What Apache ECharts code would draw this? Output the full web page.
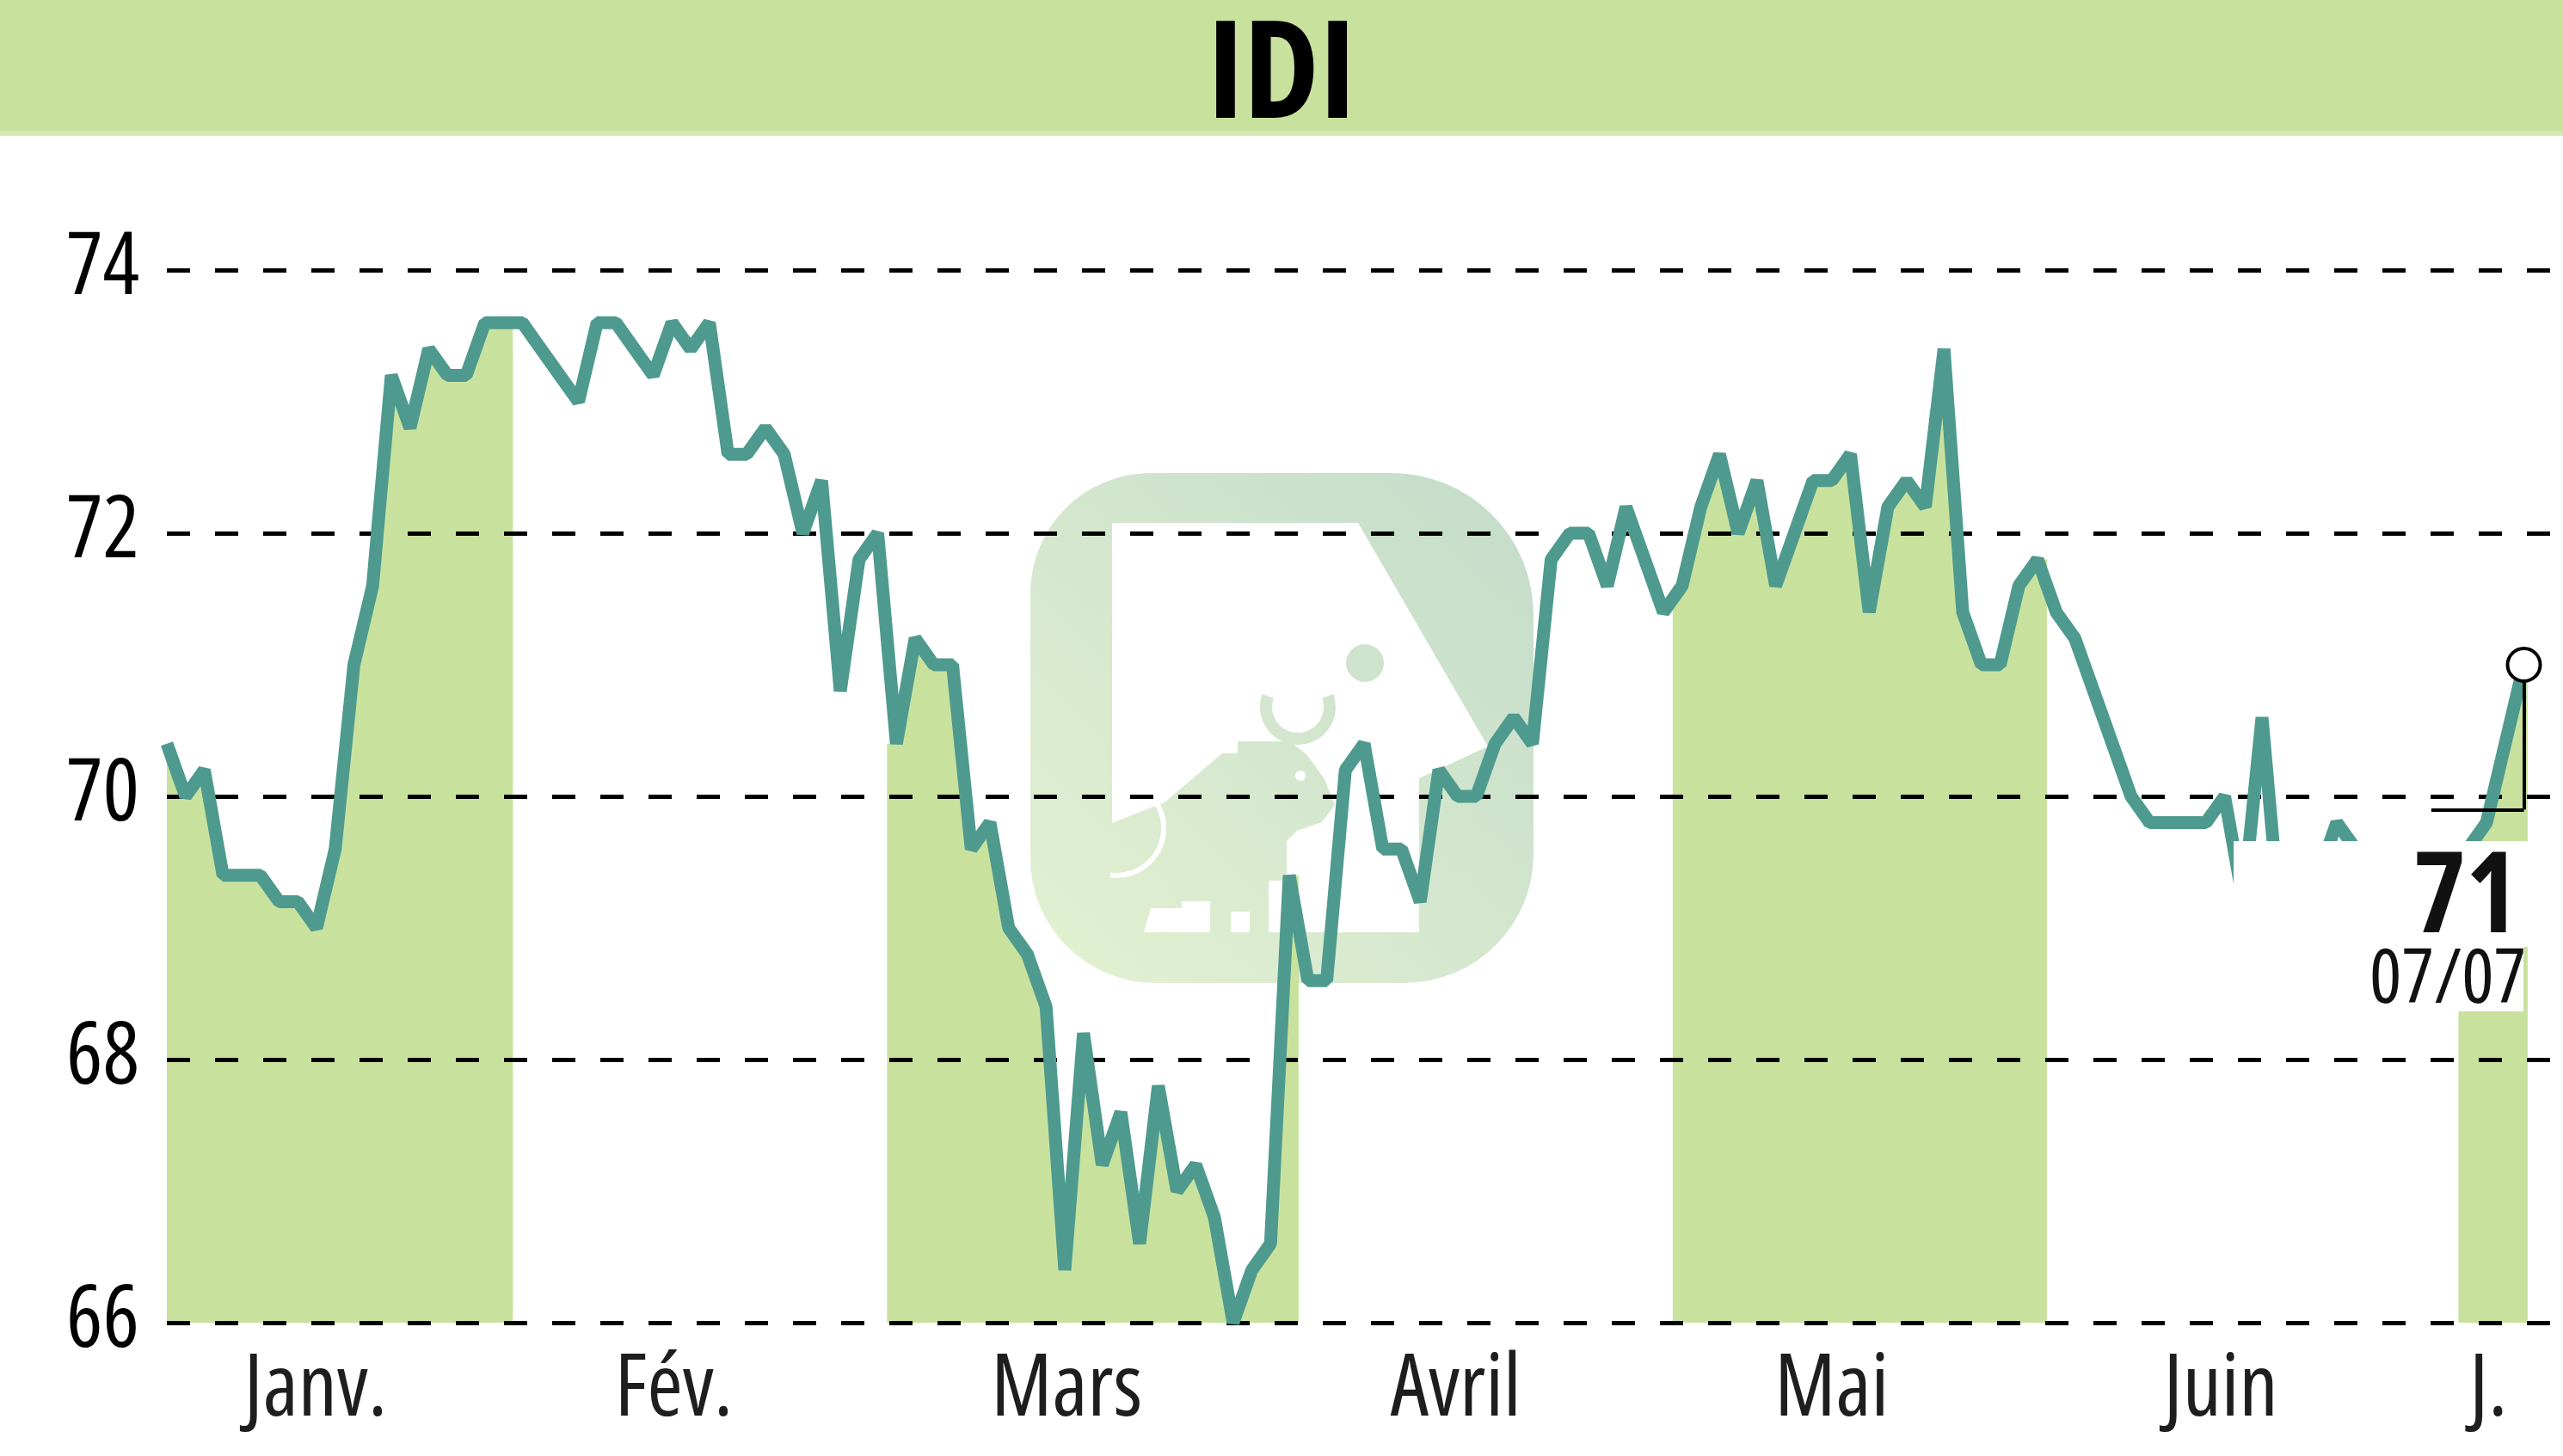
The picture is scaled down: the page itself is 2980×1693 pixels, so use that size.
<!DOCTYPE html>
<html>
<head>
<meta charset="utf-8">
<title>IDI</title>
<script src="https://cdn.jsdelivr.net/npm/echarts@6/dist/echarts.min.js"></script>
<style>
  html, body { margin: 0; padding: 0; background: #fff; }
  #chart { width: 2980px; height: 1693px; }
</style>
</head>
<body>
<div id="chart"></div>
<script>
// cours journaliers, un point par seance (janv. -> 07/07)
var prices = [
  70.4, 70.0, 70.2, 69.4, 69.4, 69.4, 69.2, 69.2, 69.0, 69.6, 71.0, 71.6, 73.2, 72.8, 73.4, 73.2, 73.2, 73.6, 73.6,
  73.6, 73.4, 73.2, 73.0, 73.6, 73.6, 73.4, 73.2, 73.6, 73.4, 73.6, 72.6, 72.6, 72.8, 72.6, 72.0, 72.4, 70.8, 71.8, 72.0,
  70.4, 71.2, 71.0, 71.0, 69.6, 69.8, 69.0, 68.8, 68.4, 66.4, 68.2, 67.2, 67.6, 66.6, 67.8, 67.0, 67.2, 66.8, 66.0, 66.4, 66.6, 69.4,
  68.6, 68.6, 70.2, 70.4, 69.6, 69.6, 69.2, 70.2, 70.0, 70.0, 70.4, 70.6, 70.4, 71.8, 72.0, 72.0, 71.6, 72.2, 71.8, 71.4,
  71.6, 72.2, 72.6, 72.0, 72.4, 71.6, 72.0, 72.4, 72.4, 72.6, 71.4, 72.2, 72.4, 72.2, 73.4, 71.4, 71.0, 71.0, 71.6, 71.8,
  71.4, 71.2, 70.8, 70.4, 70.0, 69.8, 69.8, 69.8, 69.8, 70.0, 69.2, 70.6, 69.0, 69.4, 69.4, 69.8, 69.6, 69.4, 69.4, 69.4, 69.4, 69.4,
  69.6, 69.8, 70.4, 71.0
]
// premier index de chaque mois
var monthStart = [0, 19, 39, 61, 81, 101, 123]
var monthNames = ['Janv.', 'Fév.', 'Mars', 'Avril', 'Mai', 'Juin', 'J.']
var monthLabelPos = [7.95, 27.1, 48.1, 68.9, 89.0, 109.8, 124.1]
var yTicks = [66, 68, 70, 72, 74]
var lastLabel = '71'
var lastDate = '07/07'

var TEAL = '#4e9a8e'
var GREEN = '#c8e29e'

// police etroite : on prend la premiere famille qui accepte font-stretch
function pickFont() {
  var ctx = document.createElement('canvas').getContext('2d')
  var cands = [["'Open Sans'", 'condensed'], ['Roboto', 'condensed'], ["'Noto Sans'", 'condensed']]
  for (var k = 0; k < cands.length; k++) {
    ctx.font = '100px ' + cands[k][0]
    var w0 = ctx.measureText('Janv. 74').width
    ctx.font = cands[k][1] + ' 100px ' + cands[k][0]
    var w1 = ctx.measureText('Janv. 74').width
    if (w1 < w0 * 0.9) return { family: cands[k][0] + ', sans-serif', stretch: cands[k][1] }
  }
  return { family: "'DejaVu Sans Condensed', sans-serif", stretch: '' }
}
var F = pickFont()
var W_REG = F.stretch || 'normal'
var W_BOLD = ('bold ' + F.stretch).trim()

var chart = echarts.init(document.getElementById('chart'))

var lastIdx = prices.length - 1
var lineData = prices.map(function (v, i) { return [i, v] })

// bandes vertes un mois sur deux
var fillSeries = []
for (var m = 0; m < monthStart.length; m += 2) {
  var a = monthStart[m]
  var b = m + 1 < monthStart.length ? monthStart[m + 1] - 1 : lastIdx
  var pts = [[a - 0.5, prices[a]]]
  for (var i = a; i <= b; i++) pts.push([i, prices[i]])
  pts.push([b === lastIdx ? b + 0.2 : b + 0.5, prices[b]])
  fillSeries.push({
    type: 'line',
    data: pts,
    symbol: 'none',
    clip: false,
    silent: true,
    z: 1,
    lineStyle: { width: 0, opacity: 0 },
    areaStyle: { color: GREEN, opacity: 1 }
  })
}

var logoGrad = {
  type: 'linear', global: true,
  x: 1783, y: 550, x2: 1198, y2: 1143,
  colorStops: [{ offset: 0, color: '#c3dcc9' }, { offset: 1, color: '#e4f1d2' }]
}

var logo = [
  { type: 'rect', z: 0, silent: true, shape: { x: 1198, y: 550, width: 585, height: 593, r: [140, 165, 150, 145] }, style: { fill: logoGrad } },
  { type: 'polygon', z: 0, silent: true, shape: { points: [[1293, 608], [1579, 608], [1730, 868], [1650, 905], [1650, 1084], [1293, 1084]] }, style: { fill: '#fff' } },
  { type: 'polygon', z: 0, silent: true, shape: { points: [[1290, 958], [1354, 933], [1421, 876], [1439, 876], [1439, 862], [1500, 862], [1520, 878], [1540, 906], [1552, 936], [1537, 956], [1508, 966], [1496, 978], [1496, 1084], [1290, 1084]] }, style: { fill: logoGrad } },
  { type: 'sector', z: 0, silent: true, shape: { cx: 1509, cy: 822, r: 44, r0: 30, startAngle: -0.35, endAngle: Math.PI + 0.35, clockwise: true }, style: { fill: logoGrad } },
  { type: 'circle', z: 0, silent: true, shape: { cx: 1512, cy: 902, r: 6 }, style: { fill: '#fff' } },
  { type: 'circle', z: 0, silent: true, shape: { cx: 1587, cy: 771, r: 22 }, style: { fill: logoGrad } },
  { type: 'arc', z: 0, silent: true, shape: { cx: 1298, cy: 963, r: 55, startAngle: -1.42, endAngle: 1.7, clockwise: true }, style: { stroke: '#fff', lineWidth: 6, fill: null } },
  { type: 'polygon', z: 0, silent: true, shape: { points: [[1330, 1084], [1338, 1056], [1374, 1056], [1374, 1048], [1407, 1048], [1407, 1084]] }, style: { fill: '#fff' } },
  { type: 'rect', z: 0, silent: true, shape: { x: 1431, y: 1060, width: 22, height: 24 }, style: { fill: '#fff' } },
  { type: 'rect', z: 0, silent: true, shape: { x: 1475, y: 1024, width: 17, height: 60 }, style: { fill: '#fff' } }
]

var option = {
  animation: false,
  backgroundColor: '#fff',
  grid: { left: 194, right: 0, top: 314, bottom: 155, containLabel: false },
  xAxis: {
    type: 'value',
    min: 0,
    max: 128.09,
    z: 2,
    axisLine: { show: false },
    axisTick: { show: false },
    splitLine: { show: false },
    axisLabel: {
      customValues: monthLabelPos,
      formatter: function (val) {
        for (var k = 0; k < monthLabelPos.length; k++) {
          if (Math.abs(monthLabelPos[k] - val) < 0.01) return monthNames[k]
        }
        return ''
      },
      margin: 30,
      fontSize: 100,
      lineHeight: 100,
      fontWeight: W_REG,
      fontFamily: F.family,
      color: '#1e1e1e'
    }
  },
  yAxis: {
    type: 'value',
    min: yTicks[0],
    max: yTicks[yTicks.length - 1],
    interval: 2,
    z: 2,
    axisLine: { show: false },
    axisTick: { show: false },
    axisLabel: {
      margin: 32,
      fontSize: 100,
      fontWeight: W_REG,
      fontFamily: F.family,
      color: '#000'
    },
    splitLine: {
      lineStyle: { color: '#000', width: 5, type: [27, 29] }
    }
  },
  series: fillSeries.concat([{
    type: 'line',
    data: lineData,
    symbol: 'none',
    z: 3,
    lineStyle: { color: TEAL, width: 15, join: 'bevel', cap: 'butt' },
    markLine: {
      silent: true,
      symbol: ['none', 'none'],
      label: { show: false },
      lineStyle: { color: '#000', width: 4, type: 'solid' },
      data: [
        [{ coord: [lastIdx, prices[lastIdx]] }, { coord: [lastIdx, 69.9] }],
        [{ coord: [lastIdx, 69.9] }, { coord: [121.05, 69.9] }]
      ]
    },
    markPoint: {
      silent: true,
      symbol: 'circle',
      symbolSize: 38,
      label: { show: false },
      itemStyle: { color: '#fff', borderColor: '#000', borderWidth: 4 },
      data: [{ coord: [lastIdx, prices[lastIdx]] }]
    }
  }]),
  graphic: [
    { type: 'rect', z: -1, silent: true, shape: { x: 0, y: 0, width: 2980, height: 152 }, style: { fill: GREEN } },
    { type: 'rect', z: -1, silent: true, shape: { x: 0, y: 152, width: 2980, height: 6 }, style: { fill: '#d3e8b6' } },
    {
      type: 'text', z: 5, silent: true, x: 1490, y: 92,
      style: { text: 'IDI', fontSize: 158, fontWeight: W_BOLD, fontFamily: F.family, fill: '#000', align: 'center', verticalAlign: 'middle' }
    },
    // cartouche blanc du dernier cours
    { type: 'rect', z: 10, silent: true, shape: { x: 2597, y: 978, width: 383, height: 123 }, style: { fill: '#fff' } },
    { type: 'rect', z: 10, silent: true, shape: { x: 2750, y: 1100, width: 184, height: 76 }, style: { fill: '#fff' } },
    {
      type: 'text', z: 11, silent: true, x: 2928, y: 1047,
      style: { text: lastLabel, fontSize: 130, fontWeight: W_BOLD, fontFamily: F.family, fill: '#111', align: 'right', verticalAlign: 'middle' }
    },
    {
      type: 'text', z: 11, silent: true, x: 2937, y: 1141,
      style: { text: lastDate, fontSize: 88, fontWeight: W_REG, fontFamily: F.family, fill: '#111', align: 'right', verticalAlign: 'middle' }
    }
  ].concat(logo)
}

chart.setOption(option)
</script>
</body>
</html>
